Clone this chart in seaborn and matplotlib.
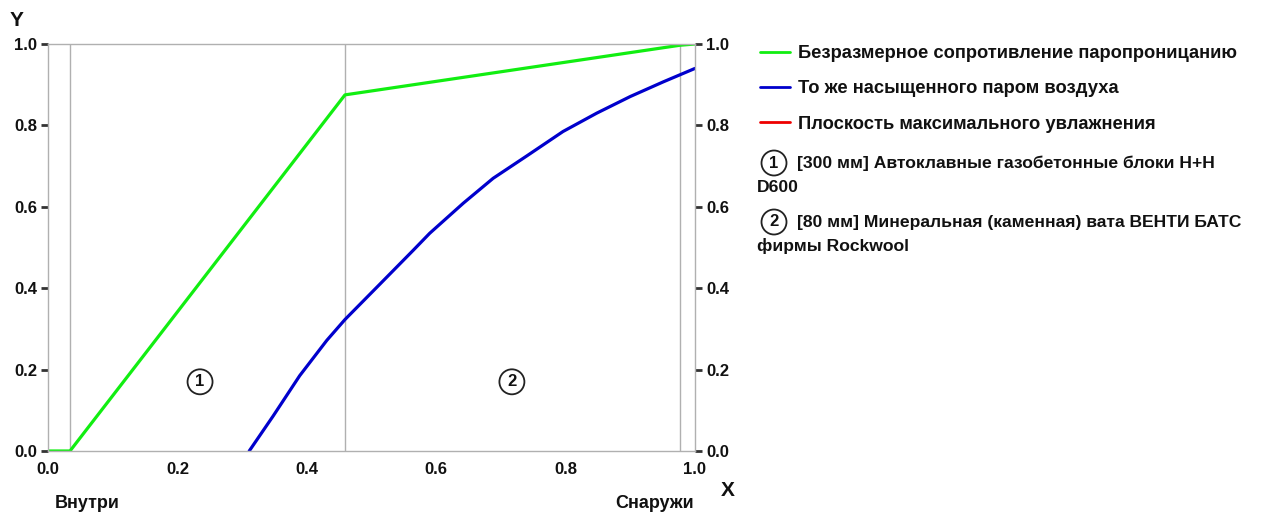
import matplotlib
matplotlib.use("Agg")
import matplotlib.pyplot as plt
import seaborn as sns
import pandas as pd
from matplotlib.lines import Line2D

# ---- data ----
green_x = [0.0, 0.034, 0.459, 0.977, 1.0]
green_y = [0.0, 0.0, 0.875, 0.997, 1.0]
blue_x = [0.311, 0.348, 0.389, 0.431, 0.459, 0.513, 0.565, 0.590, 0.642, 0.688,
          0.740, 0.796, 0.848, 0.900, 0.951, 1.0]
blue_y = [0.0, 0.086, 0.185, 0.272, 0.323, 0.410, 0.494, 0.535, 0.609, 0.670,
          0.725, 0.785, 0.830, 0.871, 0.907, 0.940]
layer_bounds = [0.034, 0.459, 0.977]
layer_label_x = [0.235, 0.717]
layer_label_y = 0.17
layer_numbers = ["1", "2"]
layer_names = [["[300 мм] Автоклавные газобетонные блоки Н+Н", "D600"],
               ["[80 мм] Минеральная (каменная) вата ВЕНТИ БАТС", "фирмы Rockwool"]]
legend_labels = ["Безразмерное сопротивление паропроницанию",
                 "То же насыщенного паром воздуха",
                 "Плоскость максимального увлажнения"]
ticks = [0.0, 0.2, 0.4, 0.6, 0.8, 1.0]

GREEN = "#11ee11"
BLUE = "#0000cc"
RED = "#ee0000"
TXT = "#111111"

sns.set_theme(style="white")
plt.rcParams['font.family'] = ['Liberation Sans', 'DejaVu Sans']
plt.rcParams['font.weight'] = 'bold'

fig = plt.figure(figsize=(12.78, 5.16), dpi=100)
ax = fig.add_axes([48/1278, 1-451/516, 647/1278, 407/516])

dg = pd.DataFrame({"x": green_x, "y": green_y})
db = pd.DataFrame({"x": blue_x, "y": blue_y})
sns.lineplot(data=dg, x="x", y="y", ax=ax, color=GREEN, lw=2.3, sort=False, estimator=None)
sns.lineplot(data=db, x="x", y="y", ax=ax, color=BLUE, lw=2.3, sort=False, estimator=None)

for b in layer_bounds:
    ax.axvline(b, color="#b0b0b0", lw=1, zorder=0)

for xx, n in zip(layer_label_x, layer_numbers):
    ax.text(xx, layer_label_y, n, ha="center", va="center", fontsize=12, fontweight="bold",
            color=TXT,
            bbox=dict(boxstyle="circle,pad=0.3", fc="white", ec="#222222", lw=1.3))

ax.set_xlim(0, 1)
ax.set_ylim(0, 1)
ax.set_xticks(ticks)
ax.set_yticks(ticks)
ax.set_xticklabels([f"{t:.1f}" for t in ticks])
ax.set_yticklabels([f"{t:.1f}" for t in ticks])
ax.set_xlabel("")
ax.set_ylabel("")
for s in ax.spines.values():
    s.set_color("#b0b0b0")
    s.set_linewidth(1)
ax.tick_params(axis="both", which="both", direction="out", length=5, width=2,
               color="#333333", labelsize=12, labelcolor=TXT, pad=3)
ax.tick_params(axis="y", left=True, right=True, labelleft=True, labelright=True)
for lab in ax.get_xticklabels() + ax.get_yticklabels():
    lab.set_fontweight("bold")
for t in ax.yaxis.get_major_ticks():
    t.label2.set_fontweight("bold")

fig.text(17/1278, 1-20/516, "Y", fontsize=15, fontweight="bold", ha="center", va="center", color=TXT)
fig.text(728/1278, 1-491/516, "X", fontsize=15, fontweight="bold", ha="center", va="center", color=TXT)
fig.text(87/1278, 1-503/516, "Внутри", fontsize=13, fontweight="bold", ha="center", va="center", color=TXT)
fig.text(655/1278, 1-503/516, "Снаружи", fontsize=13, fontweight="bold", ha="center", va="center", color=TXT)

handles = [Line2D([], [], color=c, lw=2) for c in [GREEN, BLUE, RED]]
leg = fig.legend(handles, legend_labels, loc="upper left", bbox_to_anchor=(760/1278, 1-45/516),
                 frameon=False, prop={"size": 13.2, "weight": "bold"}, labelspacing=1.0,
                 handlelength=1.65, handletextpad=0.4, borderpad=0, borderaxespad=0,
                 labelcolor=TXT)

ys = [163, 222]
for y, n, lines in zip(ys, layer_numbers, layer_names):
    fig.text(774/1278, 1-y/516, n, fontsize=12, fontweight="bold", ha="center", va="center",
             color=TXT,
             bbox=dict(boxstyle="circle,pad=0.3", fc="white", ec="#222222", lw=1.3))
    fig.text(797/1278, 1-y/516, lines[0], fontsize=12.6, fontweight="bold", ha="left", va="center",
             color=TXT)
    fig.text(757/1278, 1-(y+24)/516, lines[1], fontsize=12.6, fontweight="bold", ha="left", va="center",
             color=TXT)

fig.savefig("out.png", dpi=100)
